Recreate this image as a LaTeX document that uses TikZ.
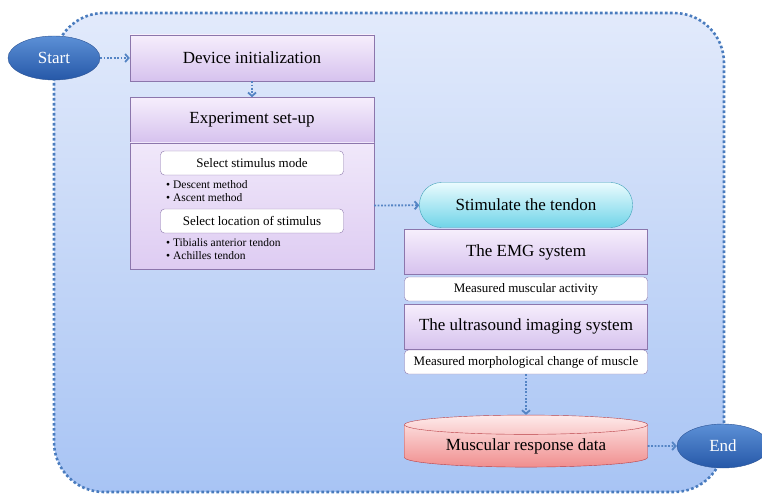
\documentclass[tikz,border=0pt]{standalone}
\usepackage{fontspec}
\setmainfont{Liberation Serif}
\usepackage{tikz}
\usetikzlibrary{positioning,calc,arrows.meta,shapes.geometric}
\definecolor{flowblue}{RGB}{74,124,190}
\definecolor{arrowblue}{RGB}{84,132,196}
\definecolor{bgtop}{RGB}{226,234,251}
\definecolor{bgbot}{RGB}{168,196,244}
\definecolor{termtop}{RGB}{92,144,214}
\definecolor{termbot}{RGB}{38,88,168}
\definecolor{termedge}{RGB}{44,84,150}
\definecolor{boxtop}{RGB}{246,238,252}
\definecolor{boxbot}{RGB}{214,194,238}
\definecolor{bodytop}{RGB}{240,232,250}
\definecolor{bodybot}{RGB}{222,204,242}
\definecolor{boxedge}{RGB}{140,118,172}
\definecolor{pilltop}{RGB}{234,251,254}
\definecolor{pillbot}{RGB}{112,212,232}
\definecolor{pilledge}{RGB}{64,162,184}
\definecolor{datatop}{RGB}{254,234,234}
\definecolor{databot}{RGB}{240,142,142}
\definecolor{dataedge}{RGB}{186,64,70}
\tikzset{
  figfont/.style={font=\fontsize{17}{20}\selectfont},
  figsmall/.style={font=\fontsize{13}{15}\selectfont},
  figtiny/.style={font=\fontsize{11.5}{13}\selectfont},
  figbox/.style={draw=boxedge, align=center, inner sep=2pt, minimum width=244pt},
  figboxpurple/.style={figbox, figfont, top color=boxtop, bottom color=boxbot, minimum height=46pt},
  figbody/.style={figbox, top color=bodytop, bottom color=bodybot, minimum height=126pt},
  figsub/.style={draw=boxedge, fill=white, rounded corners=4pt, figsmall, inner sep=1pt, minimum width=183pt, minimum height=24pt},
  figlist/.style={figtiny, align=left, inner sep=0pt, anchor=north west},
  figterminal/.style={ellipse, draw=termedge, top color=termtop, bottom color=termbot, text=white, figfont, inner sep=0pt, minimum width=92pt, minimum height=44pt},
  figpill/.style={draw=pilledge, rounded corners=22pt, top color=pilltop, bottom color=pillbot, figfont, minimum width=213pt, minimum height=45pt},
  figdata/.style={cylinder, shape border rotate=90, aspect=0.12, draw=dataedge, top color=datatop, bottom color=databot, figfont, inner sep=0pt, minimum width=243pt, minimum height=52pt},
  figarrow/.style={draw=arrowblue, line width=1.8pt, dash pattern=on 1.8pt off 1.6pt, -{Straight Barb[length=3.5pt,width=8pt]}},
}
\begin{document}
\begin{tikzpicture}[x=1pt, y=-1pt]
		\useasboundingbox (0,0) rectangle (762,494);
		% Background frame
		\path[draw=flowblue, line width=2.6pt, dash pattern=on 2.6pt off 2.4pt, rounded corners=50pt, top color=bgtop, bottom color=bgbot] (54,13) rectangle (724,492);

		% Start and end
			\node[figterminal] (start) at (54,58) {Start};
			\node[figterminal] (end) at (723,446) {End};

		% Left column
			\node[figboxpurple] (dev) at (252,58) {Device initialization};
			\node[figboxpurple, minimum height=45pt, below=16pt of dev] (exp) {Experiment set-up};
			\node[figbody, below=0pt of exp] (expbody) {};
			\node[figsub] (mode) at (252,163) {Select stimulus mode};
			\node[figlist] (modelist) at (166,180) {\textbullet{} Descent method\\\textbullet{} Ascent method};
			\node[figsub] (loc) at (252,221) {Select location of stimulus};
			\node[figlist] (loclist) at (166,238) {\textbullet{} Tibialis anterior tendon\\\textbullet{} Achilles tendon};

		% Right column
			\node[figpill] (stim) at (526,205) {Stimulate the tendon};
			\node[figboxpurple, minimum width=243pt, minimum height=45pt] (emg) at (526,252) {The EMG system};
			\node[figsub, minimum width=243pt] (emgout) at (526,289) {Measured muscular activity};
			\node[figboxpurple, minimum width=243pt, minimum height=45pt] (us) at (526,326.5) {The ultrasound imaging system};
			\node[figsub, minimum width=243pt] (usout) at (526,362) {Measured morphological change of muscle};
			\node[figdata] (data) at (526,446) {Muscular response data};

		% Arrows
			\draw[figarrow] (start) -- (dev);
			\draw[figarrow] (dev) -- (exp);
			\draw[figarrow] (expbody) -- (stim);
			\draw[figarrow] (usout) -- (data);
			\draw[figarrow] (data) -- (end);
\end{tikzpicture}
\end{document}
